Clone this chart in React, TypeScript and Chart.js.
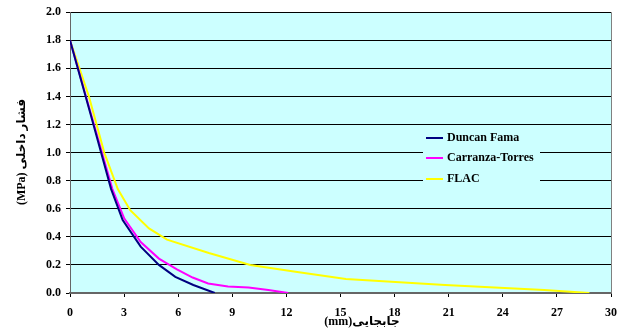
import React, { useEffect, useRef } from 'react';
import { Chart, registerables } from 'chart.js';
Chart.register(...registerables);

const duncanX = [0, 1.15, 2.28, 2.92, 3.92, 4.93, 5.84, 6.84, 8.03];
const duncanY = [1.8, 1.27, 0.74, 0.52, 0.33, 0.2, 0.115, 0.057, 0];

const carranzaX = [0, 1.15, 2.35, 3.01, 3.92, 4.93, 5.93, 6.8, 7.66, 8.76, 9.9, 11.0, 12.1];
const carranzaY = [1.8, 1.28, 0.74, 0.53, 0.363, 0.245, 0.168, 0.11, 0.068, 0.047, 0.04, 0.022, 0];

const flacX = [0, 1.05, 1.9, 2.65, 3.34, 4.38, 5.38, 7.7, 10.0, 12.6, 15.3, 20.8, 26.3, 28.8];
const flacY = [1.8, 1.4, 1.0, 0.74, 0.59, 0.46, 0.38, 0.285, 0.2, 0.15, 0.1, 0.057, 0.021, 0];

const seriesNames = ['Duncan Fama', 'Carranza-Torres', 'FLAC'];
const seriesColors = ['#000080', '#FF00FF', '#FFFF00'];

const xMin = 0, xMax = 30, xStep = 3;
const yMin = 0, yMax = 2, yStep = 0.2;

const xTitle = '(mm)جابجایی';
const yTitle = '(MPa) فشار داخلی';

const FONT = "'Liberation Serif', 'DejaVu Serif', 'DejaVu Sans', serif";

const toPoints = (xs: number[], ys: number[]) => xs.map((x, i) => ({ x, y: ys[i] }));

const decorPlugin = {
  id: 'decor',
  beforeDraw(chart: any) {
    const { ctx, chartArea: a } = chart;
    ctx.save();
    ctx.fillStyle = '#ffffff';
    ctx.fillRect(0, 0, chart.width, chart.height);
    ctx.fillStyle = '#CCFFFF';
    ctx.fillRect(a.left, a.top, a.right - a.left, a.bottom - a.top);
    ctx.restore();
  },
  afterDraw(chart: any) {
    const { ctx, chartArea: a } = chart;
    ctx.save();
    // right border
    ctx.strokeStyle = '#808080';
    ctx.lineWidth = 1;
    ctx.beginPath();
    ctx.moveTo(a.right + 0.5, a.top);
    ctx.lineTo(a.right + 0.5, a.bottom);
    ctx.stroke();

    // legend
    ctx.fillStyle = '#CCFFFF';
    ctx.fillRect(423, 127, 117, 63);
    const rows = [138, 158, 179];
    ctx.font = `bold 12px ${FONT}`;
    ctx.textBaseline = 'middle';
    ctx.textAlign = 'left';
    seriesNames.forEach((name, i) => {
      ctx.strokeStyle = seriesColors[i];
      ctx.lineWidth = 2;
      ctx.beginPath();
      ctx.moveTo(426, rows[i]);
      ctx.lineTo(443, rows[i]);
      ctx.stroke();
      ctx.fillStyle = '#000';
      ctx.fillText(name, 447, rows[i]);
    });

    // axis titles
    ctx.fillStyle = '#000';
    ctx.textAlign = 'center';
    ctx.font = `bold 12px ${FONT}`;
    ctx.fillText(xTitle, 362, 322);
    ctx.translate(22, 152);
    ctx.rotate(-Math.PI / 2);
    ctx.fillText(yTitle, 0, 0);
    ctx.restore();
  },
};

export default function App() {
  const ref = useRef<HTMLCanvasElement | null>(null);
  useEffect(() => {
    document.body.style.margin = '0';
    if (!ref.current) return;
    const chart = new Chart(ref.current, {
      type: 'line',
      data: {
        datasets: [
          { label: seriesNames[0], data: toPoints(duncanX, duncanY) },
          { label: seriesNames[1], data: toPoints(carranzaX, carranzaY) },
          { label: seriesNames[2], data: toPoints(flacX, flacY) },
        ].map((d, i) => ({
          ...d,
          borderColor: seriesColors[i],
          backgroundColor: seriesColors[i],
          borderWidth: 2,
          pointRadius: 0,
          tension: 0,
          fill: false,
        })),
      },
      options: {
        responsive: false,
        animation: false,
        layout: { padding: { top: 10, right: 8, left: 0, bottom: 0 } },
        plugins: { legend: { display: false }, tooltip: { enabled: false } },
        scales: {
          x: {
            type: 'linear',
            min: xMin,
            max: xMax,
            afterFit: (s: any) => { s.height = 39; },
            ticks: {
              stepSize: xStep,
              padding: 9,
              color: '#000',
              font: { family: FONT, size: 12, weight: 'bold' },
              maxRotation: 0,
            },
            grid: { drawOnChartArea: false, tickLength: 4, tickColor: '#000' },
            border: { color: '#666666', width: 2 },
          },
          y: {
            type: 'linear',
            min: yMin,
            max: yMax,
            afterFit: (s: any) => { s.width = 70; },
            ticks: {
              stepSize: yStep,
              padding: 5,
              color: '#000',
              font: { family: FONT, size: 12, weight: 'bold' },
              callback: (v: any) => Number(v).toFixed(1),
            },
            grid: {
              color: (c: any) => (c.tick && c.tick.value === 0 ? 'rgba(0,0,0,0)' : '#000'),
              tickLength: 4,
              tickColor: '#000',
              lineWidth: 1,
            },
            border: { color: '#666666', width: 1 },
          },
        },
      },
      plugins: [decorPlugin],
    });
    return () => chart.destroy();
  }, []);
  return (
    <div style={{ width: 626, height: 332, position: 'relative' }}>
      <canvas ref={ref} width={626} height={332} style={{ display: 'block' }} />
    </div>
  );
}
